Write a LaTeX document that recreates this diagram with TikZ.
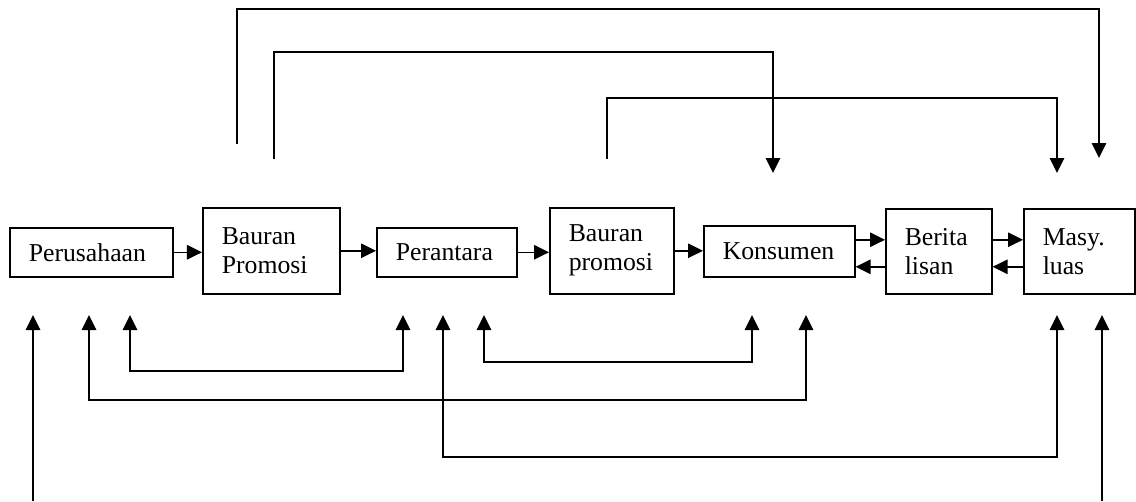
\documentclass[tikz,border=0pt]{standalone}
\usepackage{fontspec}
\setmainfont{Liberation Serif}
\usetikzlibrary{arrows.meta,calc}

\begin{document}
\begin{tikzpicture}[x=0.025cm,y=-0.025cm,line width=1.1pt,font=\fontsize{18.3}{20.6}\selectfont,
  box/.style={draw,anchor=north west,align=left,inner xsep=0.475cm,inner ysep=0pt},
  arr/.style={-{Triangle[length=0.375cm,width=0.36cm]}},
  twoarr/.style={{Triangle[length=0.375cm,width=0.36cm]}-{Triangle[length=0.375cm,width=0.36cm]}}]
  \useasboundingbox (0,0) rectangle (1136,501);
  % boxes
  \node[box,text width=3.125cm,minimum height=1.225cm] (perusahaan) at (9,227) {Perusahaan};
  \node[box,text width=2.475cm,minimum height=2.15cm] (bauran1) at (202,207) {Bauran\\Promosi};
  \node[box,text width=2.55cm,minimum height=1.225cm] (perantara) at (376,227) {Perantara};
  \node[box,text width=2.15cm,minimum height=2.15cm] (bauran2) at (549,207) {Bauran\\promosi};
  \node[box,text width=2.825cm,minimum height=1.275cm] (konsumen) at (703,225) {Konsumen};
  \node[box,text width=1.7cm,minimum height=2.125cm] (berita) at (885,208) {Berita\\lisan};
  \node[box,text width=1.825cm,minimum height=2.125cm] (masy) at (1023,208) {Masy.\\luas};
  % main chain
  \draw[arr] (perusahaan.east) -- (perusahaan.east -| bauran1.west);
  \draw[arr] (bauran1.east) -- (bauran1.east -| perantara.west);
  \draw[arr] (perantara.east) -- (perantara.east -| bauran2.west);
  \draw[arr] (bauran2.east) -- (bauran2.east -| konsumen.west);
  \coordinate (k1) at ($(konsumen.east)+(0,-11.5)$);
  \coordinate (b2) at ($(berita.west)+(0,15.5)$);
  \coordinate (b1) at ($(berita.east)+(0,-11.5)$);
  \coordinate (m2) at ($(masy.west)+(0,15.5)$);
  \draw[arr] (k1) -- (k1 -| berita.west);
  \draw[arr] (b2) -- (b2 -| konsumen.east);
  \draw[arr] (b1) -- (b1 -| masy.west);
  \draw[arr] (m2) -- (m2 -| berita.east);
  % upper loops
  \coordinate (up1) at (237,144);
  \coordinate (up1end) at (1099,158);
  \coordinate (up2) at (274,159);
  \coordinate (up2end) at (773,173);
  \coordinate (up3) at (607,159);
  \coordinate (up3end) at (1057,173);
  \draw[arr] (up1) -- ++(0,-135) -| (up1end);
  \draw[arr] (up2) -- ++(0,-107) -| (up2end);
  \draw[arr] (up3) -- ++(0,-61) -| (up3end);
  % lower loops
  \coordinate (lo1a) at (130,315);
  \coordinate (lo1b) at (403,315);
  \coordinate (lo2a) at (484,315);
  \coordinate (lo2b) at (752,315);
  \coordinate (lo3a) at (89,315);
  \coordinate (lo3b) at (806,315);
  \coordinate (lo4a) at (443,315);
  \coordinate (lo4b) at (1057,315);
  \draw[twoarr] (lo1a) -- ++(0,56) -| (lo1b);
  \draw[twoarr] (lo2a) -- ++(0,47) -| (lo2b);
  \draw[twoarr] (lo3a) -- ++(0,85) -| (lo3b);
  \draw[twoarr] (lo4a) -- ++(0,142) -| (lo4b);
  % open ends
  \coordinate (foot1) at (33,501);
  \coordinate (tip1) at (33,315);
  \coordinate (foot2) at (1102,501);
  \coordinate (tip2) at (1102,315);
  \draw[arr] (foot1) -- (tip1);
  \draw[arr] (foot2) -- (tip2);
\end{tikzpicture}
\end{document}
